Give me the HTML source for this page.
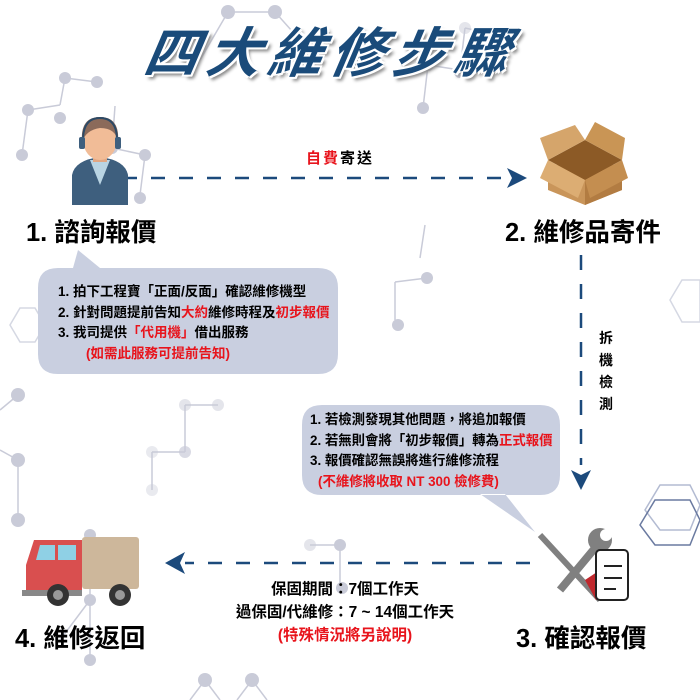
<!DOCTYPE html>
<html><head><meta charset="utf-8"><style>
body{margin:0;width:700px;height:700px;overflow:hidden;background:#fff;font-family:"Liberation Sans","Noto Sans CJK TC",sans-serif;position:relative}
.a{position:absolute;white-space:nowrap}
.r{color:#e8141c}
.b{font-weight:bold}
</style></head><body>
<svg class="a" style="left:0;top:0" width="700" height="700">
<g stroke="#c9cbd8" stroke-width="1.5" fill="#c9cbd8">
<line x1="228" y1="12" x2="200" y2="60"/><line x1="228" y1="12" x2="275" y2="12"/><line x1="275" y1="12" x2="300" y2="40"/>
<line x1="65" y1="78" x2="97" y2="82"/><line x1="65" y1="78" x2="60" y2="105"/><line x1="60" y1="105" x2="28" y2="110"/><line x1="28" y1="110" x2="22" y2="155"/><line x1="115" y1="106" x2="112" y2="148"/><line x1="112" y1="148" x2="145" y2="155"/><line x1="145" y1="155" x2="140" y2="195"/>
<line x1="465" y1="28" x2="497" y2="35"/><line x1="465" y1="28" x2="460" y2="70"/><line x1="460" y1="70" x2="428" y2="65"/><line x1="428" y1="65" x2="423" y2="108"/>
<line x1="425" y1="225" x2="420" y2="258"/><line x1="395" y1="282" x2="395" y2="320"/><line x1="395" y1="282" x2="427" y2="278"/>
<line x1="18" y1="395" x2="0" y2="410"/><line x1="0" y1="450" x2="18" y2="460"/><line x1="18" y1="460" x2="18" y2="520"/>
<line x1="185" y1="405" x2="218" y2="405"/><line x1="185" y1="405" x2="185" y2="452"/><line x1="152" y1="452" x2="152" y2="490"/><line x1="185" y1="452" x2="152" y2="452"/>
<line x1="310" y1="545" x2="340" y2="545"/><line x1="340" y1="545" x2="340" y2="590"/>
<line x1="90" y1="535" x2="90" y2="600"/><line x1="90" y1="600" x2="60" y2="640"/><line x1="90" y1="600" x2="90" y2="660"/>
<line x1="205" y1="680" x2="190" y2="700"/><line x1="205" y1="680" x2="220" y2="700"/><line x1="252" y1="680" x2="237" y2="700"/><line x1="252" y1="680" x2="267" y2="700"/>
<g stroke="none">
<circle cx="228" cy="12" r="7"/><circle cx="275" cy="12" r="7"/><circle cx="65" cy="78" r="6"/><circle cx="97" cy="82" r="6"/><circle cx="28" cy="110" r="6"/><circle cx="60" cy="118" r="6"/><circle cx="22" cy="155" r="6"/><circle cx="112" cy="148" r="6"/><circle cx="145" cy="155" r="6"/><circle cx="140" cy="198" r="6"/><circle cx="465" cy="28" r="6" opacity=".5"/><circle cx="497" cy="35" r="6" opacity=".5"/><circle cx="428" cy="65" r="6"/><circle cx="460" cy="72" r="6"/><circle cx="423" cy="108" r="6"/>
<circle cx="427" cy="278" r="6"/><circle cx="398" cy="325" r="6"/><circle cx="18" cy="395" r="7"/><circle cx="18" cy="460" r="7"/><circle cx="18" cy="520" r="7"/>
<circle cx="185" cy="405" r="6" opacity=".5"/><circle cx="218" cy="405" r="6" opacity=".5"/><circle cx="185" cy="452" r="6" opacity=".7"/><circle cx="152" cy="452" r="6" opacity=".4"/><circle cx="152" cy="490" r="6" opacity=".4"/>
<circle cx="310" cy="545" r="6" opacity=".5"/><circle cx="340" cy="545" r="6"/><circle cx="342" cy="588" r="6"/><circle cx="90" cy="535" r="6"/><circle cx="90" cy="600" r="6"/><circle cx="90" cy="660" r="6"/><circle cx="205" cy="680" r="7"/><circle cx="252" cy="680" r="7"/>
</g></g>
<g fill="none" stroke="#d5d8e3" stroke-width="1.5">
<polygon points="10,325 20,308 35,308 45,325 35,342 20,342"/><polygon points="670,300 682,280 700,280 700,322 682,322"/>
<polygon points="645,510 660,485 690,485 700,505 690,530 660,530" stroke="#b3bbd2"/>
</g>
<g fill="none" stroke="#6a7aa0" stroke-width="1.5"><polygon points="640,525 655,500 690,500 700,520 690,545 655,545"/></g>
<path d="M58,268 H318 Q338,268 338,288 V354 Q338,374 318,374 H58 Q38,374 38,354 V288 Q38,268 58,268Z M73,268 L78,250 L100,268Z" fill="#c9cfe0"/>
<path d="M322,405 H540 Q560,405 560,425 V475 Q560,495 540,495 H322 Q302,495 302,475 V425 Q302,405 322,405Z M480,494 L535,532 L505,494Z" fill="#c9cfe0"/>
<line x1="123" y1="178" x2="510" y2="178" stroke="#1c4a7c" stroke-width="2.5" stroke-dasharray="14,14"/>
<polygon points="527,178 507,168 512,178 507,188" fill="#1c4a7c"/>
<line x1="581" y1="255" x2="581" y2="465" stroke="#1c4a7c" stroke-width="2.5" stroke-dasharray="15,14"/>
<polygon points="581,490 571,470 581,475 591,470" fill="#1c4a7c"/>
<line x1="530" y1="563" x2="185" y2="563" stroke="#1c4a7c" stroke-width="2.5" stroke-dasharray="14,14"/>
<polygon points="165,563 185,552 180,563 185,574" fill="#1c4a7c"/>
<g>
<path d="M72,205 V175 Q75,160 100,157 Q125,160 128,175 V205Z" fill="#3e5f7e"/>
<path d="M90,160 L100,185 L110,160Z" fill="#b9d4e3"/>
<rect x="93" y="148" width="14" height="14" fill="#e2a783"/>
<ellipse cx="100" cy="140" rx="17" ry="20" fill="#f1bc97"/>
<path d="M82,142 Q80,117 100,117 Q120,117 118,142 Q116,128 100,128 Q86,130 82,142Z" fill="#8b6a5a"/>
<path d="M83,140 Q83,118 100,118 Q117,118 117,140" fill="none" stroke="#2c4a66" stroke-width="2"/>
<rect x="79" y="137" width="6" height="12" rx="2" fill="#3e5f7e"/><rect x="115" y="137" width="6" height="12" rx="2" fill="#3e5f7e"/>
</g>
<g>
<polygon points="548,170 585,150 622,170 622,190 585,205 548,190" fill="#c9955a"/>
<polygon points="585,180 622,170 622,190 585,205" fill="#b27c42"/>
<polygon points="548,160 585,140 622,160 585,180" fill="#8c5a26"/>
<polygon points="548,160 540,138 575,125 585,140" fill="#d5a56b"/>
<polygon points="585,140 595,122 625,138 622,160" fill="#c99555"/>
<polygon points="548,160 585,180 578,198 540,178" fill="#dcad73"/>
<polygon points="585,180 622,160 628,178 590,198" fill="#c48e50"/>
</g>
<g>
<rect x="82" y="537" width="57" height="52" rx="3" fill="#cdb79b"/>
<path d="M34,540 H82 V590 H26 V565Z" fill="#d94f4f"/>
<polygon points="40,545 55,545 55,560 36,560" fill="#8fd0e5"/><rect x="58" y="545" width="18" height="15" fill="#8fd0e5"/>
<rect x="22" y="590" width="60" height="6" fill="#888"/>
<circle cx="58" cy="595" r="11" fill="#333"/><circle cx="58" cy="595" r="5" fill="#999"/>
<circle cx="120" cy="595" r="11" fill="#333"/><circle cx="120" cy="595" r="5" fill="#999"/>
</g>
<g>
<line x1="540" y1="535" x2="600" y2="600" stroke="#808080" stroke-width="6"/>
<line x1="560" y1="590" x2="595" y2="548" stroke="#808080" stroke-width="8"/>
<circle cx="600" cy="540" r="12" fill="#808080"/><circle cx="606" cy="535" r="6" fill="#fff"/>
<polygon points="585,580 600,570 612,590 596,600" fill="#c0282d"/>
<rect x="596" y="550" width="32" height="50" rx="4" fill="#fff" stroke="#222" stroke-width="2"/>
<line x1="604" y1="566" x2="622" y2="566" stroke="#222" stroke-width="2"/><line x1="604" y1="578" x2="622" y2="578" stroke="#222" stroke-width="2"/><line x1="604" y1="589" x2="616" y2="589" stroke="#222" stroke-width="2"/>
</g>
</svg>
<div class="a b" style="left:146px;top:9px;font-size:54px;color:#1a4b7a;font-style:italic;letter-spacing:8px;text-shadow:2px 2px 0 #fff,-2px -2px 0 #fff,2px -2px 0 #fff,-2px 2px 0 #fff,4px 4px 3px #888;transform:skewX(-10deg)">四大維修步驟</div>
<div class="a b" style="left:306px;top:147px;font-size:15px;letter-spacing:2px"><span class="r">自費</span>寄送</div>
<div class="a b" style="left:26px;top:212px;font-size:25.5px">1. 諮詢報價</div>
<div class="a b" style="left:505px;top:212px;font-size:25.5px">2. 維修品寄件</div>
<div class="a b" style="left:15px;top:618px;font-size:25.5px">4. 維修返回</div>
<div class="a b" style="left:516px;top:618px;font-size:25.5px">3. 確認報價</div>
<div class="a b" style="left:58px;top:282px;font-size:13.5px;line-height:20.5px">1. 拍下工程寶「正面/反面」確認維修機型<br>2. 針對問題提前告知<span class="r">大約</span>維修時程及<span class="r">初步報價</span><br>3. 我司提供<span class="r">「代用機」</span>借出服務<br><span class="r" style="margin-left:28px">(如需此服務可提前告知)</span></div>
<div class="a b" style="left:310px;top:410px;font-size:13.4px;line-height:20.5px">1. 若檢測發現其他問題，將追加報價<br>2. 若無則會將「初步報價」轉為<span class="r">正式報價</span><br>3. 報價確認無誤將進行維修流程<br><span class="r" style="margin-left:8px">(不維修將收取 NT 300 檢修費)</span></div>
<div class="a b" style="left:599px;top:327px;font-size:14px;width:16px;line-height:22px;white-space:normal">拆機檢測</div>
<div class="a b" style="left:195px;top:578px;width:300px;text-align:center;font-size:15.5px;line-height:23px">保固期間：7個工作天<br>過保固/代維修：7 ~ 14個工作天<br><span class="r">(特殊情況將另說明)</span></div>
</body></html>
